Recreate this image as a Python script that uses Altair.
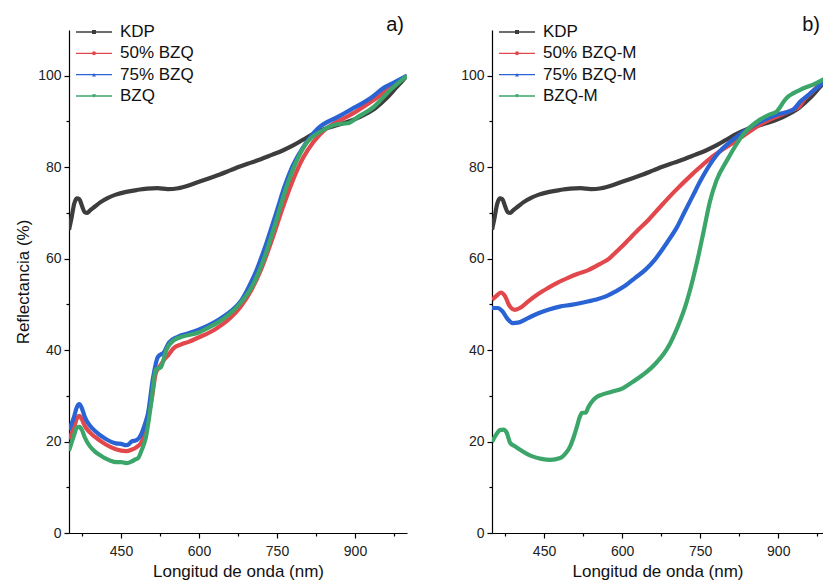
import altair as alt
import pandas as pd

FONT = "Liberation Sans, Arial, sans-serif"

# ---------------- data ----------------
kdp_x = [350, 355, 360, 365, 370, 375, 380, 385, 390, 400, 410, 425, 440, 460, 480, 500,
         520, 540, 560, 580, 600, 620, 640, 660, 680, 700, 720, 740, 760, 780, 800, 820,
         840, 860, 880, 900, 920, 940, 960, 980, 1000]
kdp_y = [66.3, 69, 72, 73.2, 73, 71.5, 70.2, 70, 70.5, 71.4, 72.3, 73.3, 74, 74.6, 75, 75.3,
         75.4, 75.2, 75.4, 76, 76.8, 77.6, 78.4, 79.3, 80.2, 81, 81.8, 82.7, 83.6, 84.7, 86, 87.3,
         88.3, 89, 89.7, 90.5, 91.6, 93, 95, 97.5, 100]

# panel a
a50_x = [350, 360, 365, 370, 375, 380, 390, 400, 420, 440, 460, 470, 480, 490, 498, 505, 510,
         517, 525, 533, 540, 552, 565, 580, 598, 629, 660, 680, 700, 720, 740, 760, 780, 800,
         820, 840, 860, 880, 900, 920, 940, 960, 980, 1000]
a50_y = [20.5, 23.2, 25, 25.6, 24.8, 23.5, 22, 21, 19.4, 18.3, 17.9, 18.2, 18.8, 20, 23.2, 27, 30,
         35, 36.5, 37.9, 38.8, 40.5, 41.2, 41.8, 42.7, 44.4, 47, 49.5, 53, 57.8, 64, 70.8, 77, 82,
         85.5, 88, 89.6, 90.8, 92, 93.5, 95, 96.7, 98.3, 100]

a75_x = [350, 360, 365, 370, 375, 380, 390, 400, 420, 440, 450, 460, 465, 470, 480, 488, 495,
         502, 511, 521, 533, 542, 559, 580, 598, 620, 640, 660, 681, 700, 710, 719, 730, 740, 752,
         764, 777, 800, 829, 867, 892, 931, 956, 980, 1000]
a75_y = [22.5, 25.5, 27.5, 28.2, 27.2, 25.5, 23.5, 22.3, 20.6, 19.6, 19.5, 19.2, 19.4, 20, 20.3,
         21.4, 23.5, 26.2, 33.5, 38.5, 39.6, 41.6, 42.9, 43.7, 44.4, 45.5, 46.8, 48.4, 50.8, 54.8,
         57.3, 60, 63.5, 67, 71.3, 75.6, 79.5, 84.3, 88.5, 91, 92.6, 95.2, 97.4, 98.8, 100]

a100_x = [350, 360, 365, 370, 375, 380, 390, 400, 410, 420, 430, 440, 450, 460, 470, 476, 483,
          490, 498, 508, 517, 527, 537, 552, 570, 598, 620, 640, 660, 680, 700, 712, 725, 745,
          771, 802, 840, 865, 886, 906, 936, 969, 1000]
a100_y = [18, 21.5, 23, 23.2, 22.5, 21, 19, 17.8, 17, 16.3, 15.8, 15.5, 15.5, 15.3, 15.6, 16,
          16.4, 18.2, 21, 28.4, 35.7, 36.3, 40, 42.2, 43, 43.8, 45, 46.3, 48, 50.3, 53.5, 56.3,
          60, 67, 76.6, 84.5, 88.2, 89.4, 89.6, 91, 93.2, 97, 100]

# panel b
b50_x = [350, 358, 367, 375, 383, 394, 405, 419, 438, 458, 477, 496, 515, 535, 560, 575, 587,
         600, 612, 631, 650, 673, 700, 737, 770, 802, 830, 865, 900, 929, 940, 950, 965, 985, 1000]
b50_y = [51, 51.8, 52.6, 51.8, 49.8, 48.8, 49.3, 50.6, 52.2, 53.6, 54.8, 55.8, 56.7, 57.5, 59,
         60, 61.3, 62.7, 64.1, 66.3, 68.4, 71.3, 74.6, 78.7, 82, 84.5, 86.6, 89.3, 91.2, 92.6,
         93.2, 94.8, 96.4, 98.8, 100]

b75_x = [350, 361, 370, 380, 390, 400, 419, 438, 458, 480, 502, 525, 548, 570, 587, 605, 625,
         645, 663, 688, 706, 720, 737, 750, 769, 788, 802, 833, 865, 898, 929, 942, 960, 985, 1000]
b75_y = [49.2, 49.2, 48.5, 46.8, 45.9, 46, 47, 48, 48.8, 49.5, 49.9, 50.4, 51, 51.8, 52.8, 54,
         55.8, 57.6, 59.8, 63.8, 67, 70.2, 74, 76.9, 80.6, 83.5, 85, 87.7, 89.9, 91.5, 92.6,
         94.3, 96, 98.4, 100]

b100_x = [350, 358, 365, 372, 378, 385, 395, 404, 417, 429, 445, 462, 481, 492, 500, 507, 513,
          519, 523, 530, 535, 544, 552, 560, 580, 602, 620, 640, 655, 667, 680, 692, 702, 712,
          722, 731, 744, 756, 769, 781, 802, 833, 865, 883, 896, 915, 942, 970, 1000]
b100_y = [19.9, 21.5, 22.5, 22.6, 22, 19.7, 18.9, 18.2, 17.3, 16.7, 16.2, 16, 16.4, 17.5, 18.9,
          21, 23.2, 25.5, 26.3, 26.3, 27.5, 29, 29.8, 30.2, 30.9, 31.7, 33, 34.6, 36, 37.4, 39.2,
          41.4, 43.8, 46.6, 49.8, 53.3, 59.3, 65.6, 72.6, 77, 81.6, 87.2, 90.4, 91.5, 92.1, 95,
          96.9, 98.2, 100]

names_a = ["KDP", "50% BZQ", "75% BZQ", "BZQ"]
names_b = ["KDP", "50% BZQ-M", "75% BZQ-M", "BZQ-M"]
colors = ["#3d3d3d", "#e2474b", "#2a63d3", "#3ca66a"]
shapes = ["square", "circle", "triangle-up", "triangle-down"]

x_ticks = [375, 450, 525, 600, 675, 750, 825, 900, 975]
y_ticks = [0, 10, 20, 30, 40, 50, 60, 70, 80, 90, 100]


def long_df(names, xs, ys):
    rows = []
    for order, (n, xx, yy) in enumerate(zip(names, xs, ys)):
        for a, b in zip(xx, yy):
            rows.append({"series": n, "wl": a, "R": b, "ord": order})
    return pd.DataFrame(rows)


df_a = long_df(names_a, [kdp_x, a50_x, a75_x, a100_x], [kdp_y, a50_y, a75_y, a100_y])
df_b = long_df(names_b, [kdp_x, b50_x, b75_x, b100_x], [kdp_y, b50_y, b75_y, b100_y])

major_tick = {"condition": {"test": "datum.value % 20 === 0", "value": 5}, "value": 3}
major_xtick = {"condition": {"test": "datum.value % 150 === 0", "value": 5}, "value": 3}


def panel(df, names, label, xmax, width, show_title):
    cscale = alt.Scale(domain=names, range=colors)
    xaxis = alt.Axis(values=x_ticks, labelExpr="datum.value % 150 === 0 ? datum.label : ''",
                     tickSize=major_xtick, labelPadding=6, title="Longitud de onda (nm)",
                     titlePadding=5)
    yaxis = alt.Axis(values=y_ticks, labelExpr="datum.value % 20 === 0 ? datum.label : ''",
                     tickSize=major_tick, labelPadding=3,
                     title="Reflectancia (%)" if show_title else None, titlePadding=5)
    lines = alt.Chart(df).mark_line(strokeWidth=4.2, interpolate="monotone", clip=True).encode(
        x=alt.X("wl:Q", scale=alt.Scale(domain=[350, xmax], nice=False), axis=xaxis),
        y=alt.Y("R:Q", scale=alt.Scale(domain=[0, 110], nice=False), axis=yaxis),
        color=alt.Color("series:N", scale=cscale, legend=None),
        detail="ord:O",
        order="wl:Q",
    )
    leg_df = pd.DataFrame({"series": names})
    ly = alt.Y("series:N", sort=names, axis=None,
               scale=alt.Scale(type="point", range=[2, 66], padding=0))
    lc = alt.Color("series:N", scale=cscale, legend=None)
    leg_rule = alt.Chart(leg_df).mark_rule(strokeWidth=1.3).encode(
        x=alt.value(7), x2=alt.value(43), y=ly, color=lc)
    leg_pt = alt.Chart(leg_df).mark_point(filled=True, size=16, opacity=1).encode(
        x=alt.value(25), y=ly, color=lc,
        shape=alt.Shape("series:N", scale=alt.Scale(domain=names, range=shapes), legend=None))
    leg_txt = alt.Chart(leg_df).mark_text(align="left", baseline="middle", fontSize=17,
                                          font=FONT, color="#111").encode(
        x=alt.value(51), y=ly, text="series:N")
    lab = alt.Chart(pd.DataFrame({"t": [label]})).mark_text(
        align="right", baseline="middle", fontSize=20, font=FONT, color="#111").encode(
        x=alt.value(width - 3), y=alt.value(-5), text="t:N")
    return alt.layer(lines, leg_rule, leg_pt, leg_txt, lab).resolve_scale(
        y="independent").properties(width=width, height=503)


pa = panel(df_a, names_a, "a)", 1000, 338, True)
pb = panel(df_b, names_b, "b)", 986, 331, False)

chart = alt.hconcat(pa, pb, spacing=53).resolve_scale(
    color="independent", shape="independent"
).properties(
    padding={"left": 14, "top": 15, "right": 0, "bottom": 4}
).configure_view(stroke=None).configure_axis(
    grid=False, domainColor="#000", tickColor="#000", domainWidth=1.2, tickWidth=1.2,
    labelFont=FONT, labelFontSize=14, labelColor="#222",
    titleFont=FONT, titleFontSize=17, titleFontWeight="normal", titleColor="#111",
)

chart.save("out.html", embed_options={"renderer": "svg", "actions": False})
